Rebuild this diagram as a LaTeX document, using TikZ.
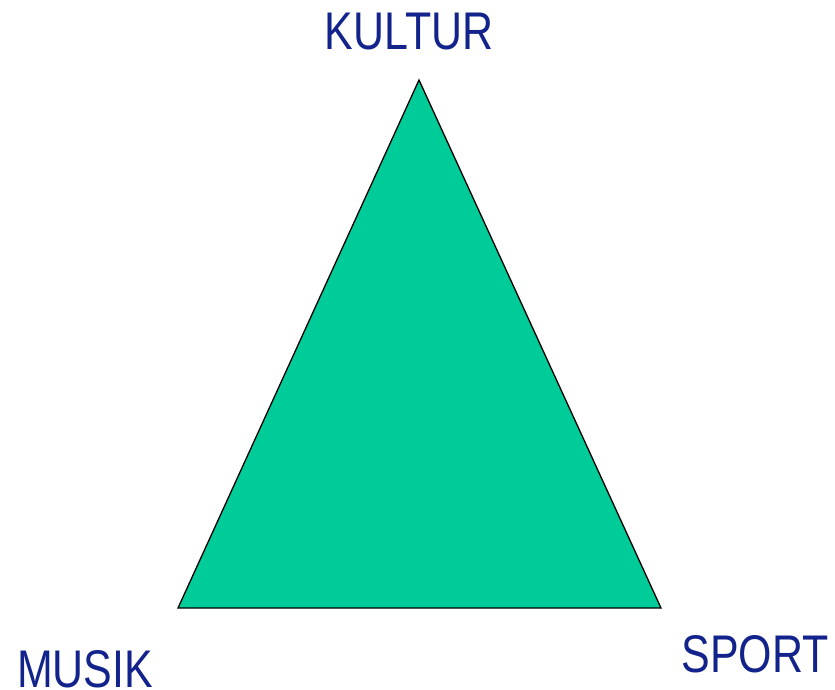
\documentclass[tikz,border=0pt]{standalone}
\usepackage{fontspec}
\usepackage{graphicx}
\setmainfont{Liberation Sans}
\definecolor{labelblue}{HTML}{13238C}
\definecolor{trifill}{HTML}{00CC99}
\tikzset{
  lbl/.style={inner sep=0pt, anchor=base, text=labelblue, font=\fontsize{53}{60}\selectfont},
  tri/.style={draw=black, line width=1.3pt, fill=trifill, line join=miter}
}
\newcommand{\squeeze}[1]{\scalebox{0.81}[1]{#1}}
\begin{document}
\begin{tikzpicture}[x=1pt,y=-1pt]
\useasboundingbox (0,0) rectangle (835,690);
\coordinate (top) at (419,80);
\coordinate (bl) at (178,608);
\coordinate (br) at (661,608);
\draw[tri] (top) -- (br) -- (bl) -- cycle;
\node[lbl] (kultur) at (409,50) {\squeeze{KULTUR}};
\node[lbl] (musik) at (85,687) {\squeeze{MUSIK}};
\node[lbl] (sport) at (755,672) {\squeeze{SPORT}};
\end{tikzpicture}
\end{document}
